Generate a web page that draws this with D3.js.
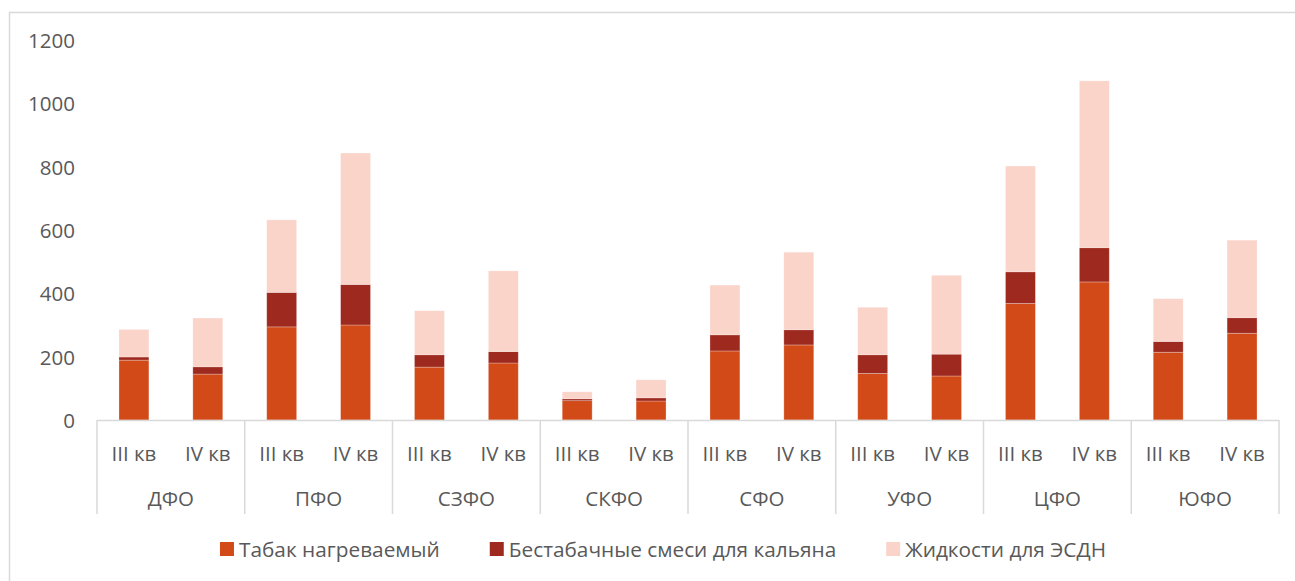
<!DOCTYPE html>
<html>
<head>
<meta charset="utf-8">
<script src="https://cdn.jsdelivr.net/npm/d3@7"></script>
<style>
  body { margin: 0; background: #fff; }
  svg text { font-family: "Open Sans", "Noto Sans", sans-serif; fill: #595959; }
</style>
</head>
<body>
<svg id="chart" width="1295" height="581"></svg>
<script>
var regions = ["ДФО", "ПФО", "СЗФО", "СКФО", "СФО", "УФО", "ЦФО", "ЮФО"];
var quarters = ["III кв", "IV кв"];
var seriesNames = ["Табак нагреваемый", "Бестабачные смеси для кальяна", "Жидкости для ЭСДН"];
var seriesColors = ["#D24A18", "#9E2A1F", "#FAD3C9"];
var yTicks = [0, 200, 400, 600, 800, 1000, 1200];

// values per region, III кв then IV кв
var tabak   = [189, 145, 294, 300, 167, 180, 61, 60, 218, 237, 147, 139, 368, 436, 214, 274];
var hookah  = [10, 23, 109, 128, 39, 36, 6, 10, 51, 48, 59, 69, 100, 108, 34, 49];
var liquids = [87, 154, 229, 415, 139, 255, 22, 57, 157, 245, 150, 249, 334, 527, 135, 245];

var rows = [];
regions.forEach(function(r, i) {
    quarters.forEach(function(q, j) {
        var k = i * 2 + j;
        rows.push({key: r + "|" + q, region: r, quarter: q, s0: tabak[k], s1: hookah[k], s2: liquids[k]});
    });
});

var svg = d3.select("#chart");
var plotLeft = 97, plotRight = 1279, plotTop = 40, plotBase = 420;

// outer chart frame
svg.append("rect")
    .attr("x", 9.5).attr("y", 12.5)
    .attr("width", 1400).attr("height", 700)
    .attr("fill", "none").attr("stroke", "#D9D9D9").attr("stroke-width", 1.5);

var y = d3.scaleLinear().domain([0, 1200]).range([plotBase, plotTop]);
var xGroup = d3.scaleBand().domain(regions).range([plotLeft, plotRight]);
var x = d3.scaleBand().domain(rows.map(function(d){ return d.key; }))
    .range([plotLeft, plotRight]).paddingInner(0.595).paddingOuter(0.2975);

// y tick labels
svg.append("g").selectAll("text").data(yTicks).enter().append("text")
    .attr("x", 75).attr("y", function(d){ return y(d); })
    .attr("text-anchor", "end").attr("dominant-baseline", "central")
    .style("font-size", "20.5px")
    .text(function(d){ return d; });

var stack = d3.stack().keys(["s0", "s1", "s2"]);
var layers = stack(rows);

svg.append("g").selectAll("g").data(layers).enter().append("g")
    .attr("fill", function(d, i){ return seriesColors[i]; })
    .selectAll("rect").data(function(d){ return d; }).enter().append("rect")
    .attr("x", function(d){ return x(d.data.key); })
    .attr("width", x.bandwidth())
    .attr("y", function(d){ return y(d[1]); })
    .attr("height", function(d){ return y(d[0]) - y(d[1]); })
    .attr("stroke", "#fff").attr("stroke-opacity", 0.35).attr("stroke-width", 0.75);

// category axis
var axis = svg.append("g").attr("stroke", "#D9D9D9").attr("stroke-width", 1.5);
axis.append("line").attr("x1", plotLeft).attr("x2", plotRight).attr("y1", plotBase + 0.5).attr("y2", plotBase + 0.5);
var bounds = regions.map(function(r){ return xGroup(r); }).concat([plotRight]);
axis.selectAll("line.sep").data(bounds).enter().append("line")
    .attr("class", "sep")
    .attr("x1", function(d){ return d; }).attr("x2", function(d){ return d; })
    .attr("y1", plotBase).attr("y2", 514);

svg.append("g").selectAll("text").data(rows).enter().append("text")
    .attr("x", function(d){ return x(d.key) + x.bandwidth() / 2; })
    .attr("y", 453).attr("text-anchor", "middle").attr("dominant-baseline", "central")
    .style("font-size", "20.5px")
    .text(function(d){ return d.quarter; });

svg.append("g").selectAll("text").data(regions).enter().append("text")
    .attr("x", function(d){ return xGroup(d) + xGroup.bandwidth() / 2; })
    .attr("y", 498).attr("text-anchor", "middle").attr("dominant-baseline", "central")
    .style("font-size", "20.5px")
    .text(function(d){ return d; });

// legend
var legend = svg.append("g");
var items = legend.selectAll("g").data(seriesNames).enter().append("g");
items.append("rect").attr("width", 14).attr("height", 14).attr("y", -7)
    .attr("fill", function(d, i){ return seriesColors[i]; });
items.append("text").attr("x", 19).attr("dominant-baseline", "central")
    .style("font-size", "20.8px")
    .text(function(d){ return d; });
var pos = 0;
items.each(function() {
    var w = this.getBBox().width;
    d3.select(this).attr("data-x", pos);
    pos += w + 50;
});
var total = pos - 50;
var startX = 663 - total / 2;
items.attr("transform", function() {
    return "translate(" + (startX + (+d3.select(this).attr("data-x"))) + ",549)";
});
</script>
</body>
</html>
